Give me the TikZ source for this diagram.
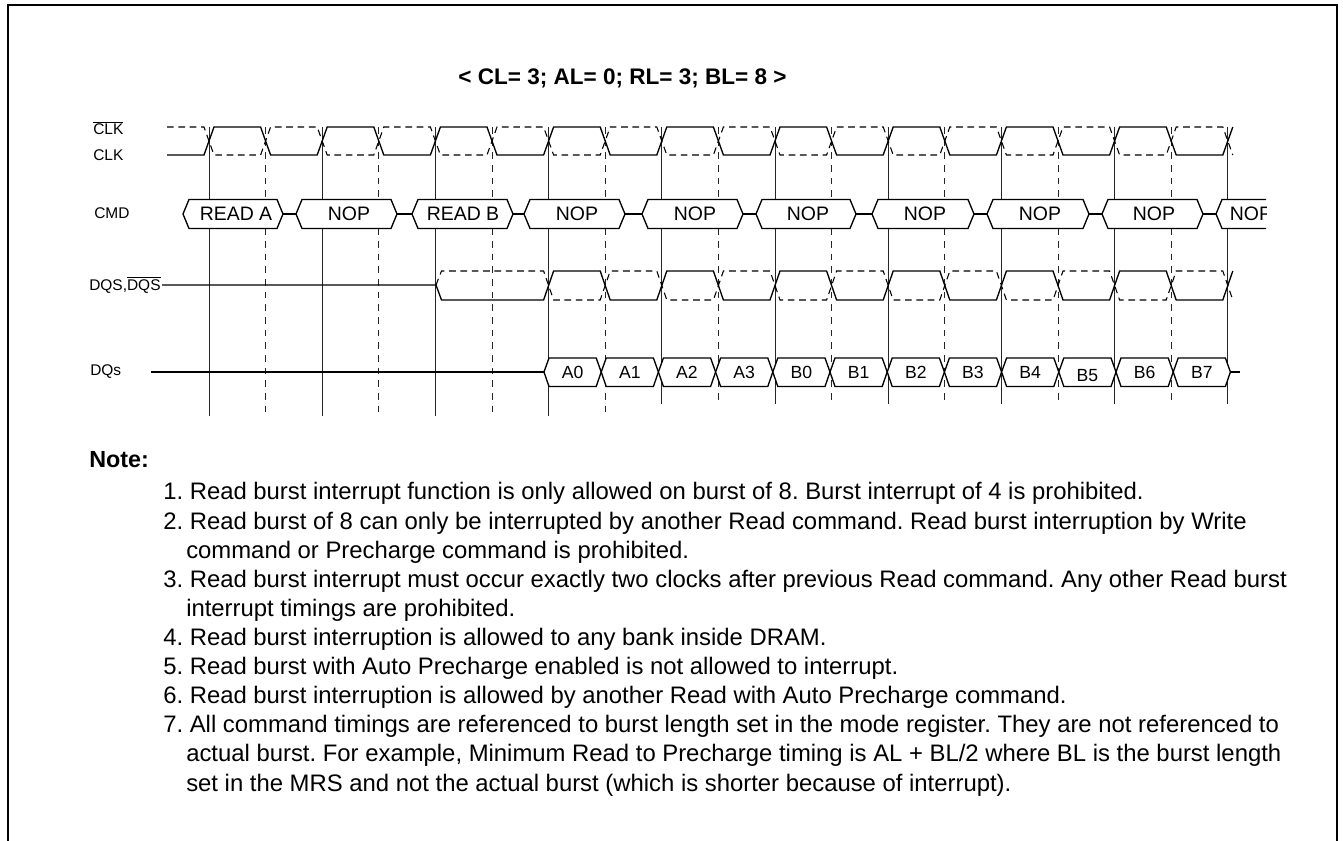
\documentclass[tikz,border=0pt]{standalone}
\usepackage{fontspec}
\setmainfont{Liberation Sans}
\frenchspacing
\newcommand\cmdhex[5]{%
  \draw[cmdbox] (#1,214) -- ({#1+6},199.5) -- ({#2-6},199.5) -- (#2,214) -- ({#2-6},228.5) -- ({#1+6},228.5) -- cycle;
  \node[cmdtxt] (#4) at (#5,214) {#3};}
\begin{document}
\begin{tikzpicture}[x=0.75pt,y=-0.75pt,
  wave/.style={line width=1pt, line join=miter},
  cwave/.style={line width=0.8pt, dash pattern=on 5pt off 3.5pt},
  vsolid/.style={line width=0.7pt, draw=black!85},
  vdash/.style={line width=0.7pt, draw=black!85, dash pattern=on 5pt off 4.5pt},
  cmdbox/.style={line width=1pt, fill=white},
  dqbox/.style={line width=1pt, fill=white},
  cmdtxt/.style={font=\fontsize{14.6}{16}\selectfont, inner sep=0pt, text height=10.5pt, text depth=0pt},
  dqtxt/.style={font=\fontsize{13.2}{15}\selectfont, inner sep=0pt, text height=9.5pt, text depth=0pt},
  lbl/.style={font=\fontsize{11.6}{13}\selectfont, anchor=west, inner sep=0pt},
  notetxt/.style={font=\fontsize{17.9}{20}\selectfont, anchor=base west, inner sep=0pt}]
\useasboundingbox (0,0) rectangle (1343,841);
% frame
\draw[line width=1.5pt] (8,845) -- (8,5) -- (1337,5) -- (1337,845);
% title
\node[font=\bfseries\fontsize{16.9}{19}\selectfont, inner sep=0pt] (title) at (622.5,78) {< CL= 3; AL= 0; RL= 3; BL= 8 >};
% vertical reference lines
\foreach \k in {0,...,9}{
  \pgfmathsetmacro\xx{209+113.2*\k}
  \pgfmathsetmacro\yy{404+12*(\k<4)}
  \draw[vsolid] (\xx,127) -- (\xx,\yy);
}
\foreach \k in {0,...,8}{
  \pgfmathsetmacro\xx{265.6+113.2*\k}
  \pgfmathsetmacro\yy{401+13*(\k<4)}
  \draw[vdash] (\xx,127) -- (\xx,\yy);
}
% clock
\draw[wave] (167,155) foreach \k in {0,...,8} { -- ({204+113.2*\k},155) -- ({214+113.2*\k},127) -- ({260.6+113.2*\k},127) -- ({270.6+113.2*\k},155) } -- (1222.8,155) -- (1232.8,127);
\draw[cwave] (167,127) foreach \k in {0,...,8} { -- ({204+113.2*\k},127) -- ({214+113.2*\k},155) -- ({260.6+113.2*\k},155) -- ({270.6+113.2*\k},127) } -- (1222.8,127) -- (1232.8,155);
% command bus
\draw[wave] (283,214) -- (1216,214);
\cmdhex{183}{283}{READ A}{c1}{236}
\cmdhex{296}{397}{NOP}{c2}{349}
\cmdhex{412}{513}{READ B}{c3}{463}
\cmdhex{524}{625}{NOP}{c4}{577}
\cmdhex{642}{743}{NOP}{c5}{695}
\cmdhex{756}{856}{NOP}{c6}{808}
\cmdhex{872}{974}{NOP}{c7}{925}
\cmdhex{987}{1089}{NOP}{c8}{1040}
\cmdhex{1102}{1203}{NOP}{c9}{1154}
\begin{scope}
  \clip (1205,190) rectangle (1266,240);
  \cmdhex{1216}{1320}{NOP}{c10}{1251}
\end{scope}
% DQS
\draw[wave] (162,285) -- (436,285) -- (441.5,300) foreach \k in {3,...,8} { -- ({204+113.2*\k},300) -- ({214+113.2*\k},271) -- ({260.6+113.2*\k},271) -- ({270.6+113.2*\k},300) } -- (1222.8,300) -- (1232.8,271);
\draw[cwave] (436,285) -- (441.5,271) foreach \k in {3,...,8} { -- ({204+113.2*\k},271) -- ({214+113.2*\k},300) -- ({260.6+113.2*\k},300) -- ({270.6+113.2*\k},271) } -- (1222.8,271) -- (1232.8,300);
% DQ bus
\draw[wave] (151,372) -- (544,372);
\draw[wave] (1230.4,372) -- (1240,372);
\foreach \lab/\dy [count=\i from 0] in {A0/0,A1/0,A2/0,A3/0,B0/0,B1/0,B2/0,B3/0,B4/0,B5/3,B6/0,B7/0}{
  \pgfmathsetmacro\xa{544+57.2*\i}
  \pgfmathsetmacro\xb{544+57.2*(\i+1)}
  \draw[dqbox] (\xa,372) -- ({\xa+5},358) -- ({\xb-5},358) -- (\xb,372) -- ({\xb-5},386.5) -- ({\xa+5},386.5) -- cycle;
  \node[dqtxt] (dq\i) at ({(\xa+\xb)/2},{372+\dy}) {\lab};
}
% signal labels
\node[lbl] (lclkb) at (93,128) {$\overline{\hbox{CLK}}$};
\node[lbl] (lclk) at (93,155) {CLK};
\node[lbl] (lcmd) at (94,213) {CMD};
\node[lbl] (ldqs) at (89,285) {DQS,$\overline{\hbox{DQS}}$};
\node[lbl] (ldq) at (90,372) {DQs};
% notes
\node[notetxt, font=\bfseries\fontsize{17.5}{20}\selectfont] (note) at (89,468) {Note:};
\node[notetxt] (n1) at (163,500) {1. Read burst interrupt function is only allowed on burst of 8. Burst interrupt of 4 is prohibited.};
\node[notetxt] (n2) at (163,529.1) {2. Read burst of 8 can only be interrupted by another Read command. Read burst interruption by Write};
\node[notetxt] (n2b) at (186,558.2) {command or Precharge command is prohibited.};
\node[notetxt] (n3) at (163,587.3) {3. Read burst interrupt must occur exactly two clocks after previous Read command. Any other Read burst};
\node[notetxt] (n3b) at (186,616.4) {interrupt timings are prohibited.};
\node[notetxt] (n4) at (163,645.5) {4. Read burst interruption is allowed to any bank inside DRAM.};
\node[notetxt] (n5) at (163,674.6) {5. Read burst with Auto Precharge enabled is not allowed to interrupt.};
\node[notetxt] (n6) at (163,703.7) {6. Read burst interruption is allowed by another Read with Auto Precharge command.};
\node[notetxt] (n7) at (163,732.8) {7. All command timings are referenced to burst length set in the mode register. They are not referenced to};
\node[notetxt] (n7b) at (186,761.9) {actual burst. For example, Minimum Read to Precharge timing is AL + BL/2 where BL is the burst length};
\node[notetxt] (n7c) at (186,791) {set in the MRS and not the actual burst (which is shorter because of interrupt).};
\end{tikzpicture}
\end{document}
